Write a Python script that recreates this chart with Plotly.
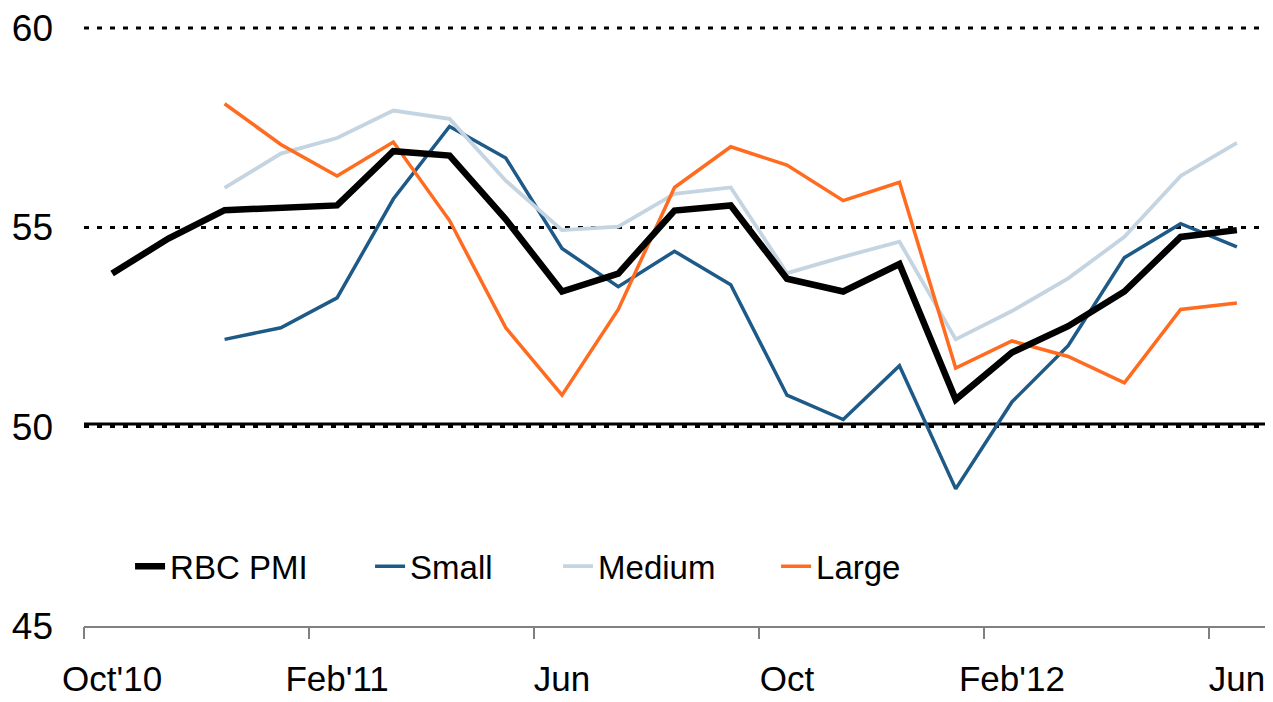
import plotly.graph_objects as go

months = ["Oct'10", "Nov'10", "Dec'10", "Jan'11", "Feb'11", "Mar'11", "Apr'11", "May'11",
          "Jun'11", "Jul'11", "Aug'11", "Sep'11", "Oct'11", "Nov'11", "Dec'11", "Jan'12",
          "Feb'12", "Mar'12", "Apr'12", "May'12", "Jun'12"]
tick_months = ["Oct'10", "Feb'11", "Jun'11", "Oct'11", "Feb'12", "Jun'12"]
tick_labels = ["Oct'10", "Feb'11", "Jun", "Oct", "Feb'12", "Jun"]

rbc_pmi = [53.84, 54.72, 55.43, 55.49, 55.55, 56.91, 56.80, 55.20, 53.39, 53.84, 55.42,
           55.55, 53.71, 53.39, 54.08, 50.68, 51.86, 52.52, 53.39, 54.76, 54.93]
small = [None, None, 52.19, 52.48, 53.23, 55.71, 57.53, 56.74, 54.47, 53.51, 54.40,
         53.56, 50.79, 50.18, 51.53, 48.44, 50.62, 52.03, 54.24, 55.09, 54.51]
medium = [None, None, 55.99, 56.85, 57.24, 57.93, 57.72, 56.17, 54.93, 55.02, 55.84,
          56.00, 53.85, 54.26, 54.64, 52.19, 52.90, 53.72, 54.76, 56.29, 57.12]
large = [None, None, 58.10, 57.08, 56.29, 57.14, 55.17, 52.48, 50.79, 52.94, 56.00,
         57.02, 56.56, 55.67, 56.13, 51.47, 52.15, 51.76, 51.10, 52.94, 53.10]

series = {
    "RBC PMI": (rbc_pmi, "#000000", 6.5, 1, 195),
    "Small": (small, "#1E5A88", 3.5, 2, 143),
    "Medium": (medium, "#C5D4E1", 3.8, 3, 173),
    "Large": (large, "#FF6B1F", 3.5, 4, 100),
}

fig = go.Figure()
for name in ["Small", "Medium", "Large", "RBC PMI"]:
    vals, color, w, rank, lw = series[name]
    fig.add_trace(go.Scatter(x=months, y=vals, name=name, mode="lines",
                             line=dict(color=color, width=w), connectgaps=False,
                             legendrank=rank, legendwidth=lw))

# invisible trace on overlay axis for boundary tick marks
fig.add_trace(go.Scatter(x=[-0.5, len(months) - 0.5], y=[None, None], xaxis="x2",
                         showlegend=False, hoverinfo="skip"))

font = "Liberation Sans, Arial, sans-serif"

fig.update_layout(
    width=1273, height=702,
    margin=dict(l=84, r=8, t=28, b=76),
    plot_bgcolor="white", paper_bgcolor="white",
    showlegend=True,
    legend=dict(orientation="h", x=0.039, xanchor="left", y=0.1, yanchor="middle",
                font=dict(family=font, size=33, color="#000000"),
                bgcolor="rgba(0,0,0,0)", traceorder="normal"),
    xaxis=dict(type="category", categoryorder="array", categoryarray=months,
               range=[-0.5, len(months) - 0.5],
               tickvals=tick_months, ticktext=tick_labels,
               ticks="", showgrid=False, zeroline=False, automargin=False,
               showline=True, linecolor="#808080", linewidth=2,
               tickfont=dict(family=font, size=35, color="#000000"),
               ticklabelstandoff=21),
    xaxis2=dict(overlaying="x", anchor="y", side="bottom", range=[-0.5, len(months) - 0.5],
                tickvals=[-0.5 + 4 * i for i in range(6)], showticklabels=False,
                ticks="outside", ticklen=12, tickwidth=1.5, tickcolor="#808080",
                showgrid=False, zeroline=False, showline=False, automargin=False),
    yaxis=dict(range=[45, 60], tickvals=[45, 50, 55, 60], ticks="",
               showgrid=True, gridcolor="#000000", gridwidth=3, griddash="5px,8px",
               zeroline=False, showline=False, automargin=False,
               tickfont=dict(family=font, size=37, color="#000000"),
               ticklabelstandoff=30),
)

# top gridline (plotly omits grid at the range edge) and solid line at 50
fig.add_shape(type="line", xref="paper", yref="paper", x0=0, x1=1, y0=1, y1=1,
              line=dict(color="#000000", width=3, dash="5px,8px"), layer="below")
fig.add_shape(type="line", xref="paper", yref="y", x0=0, x1=1, y0=50.07, y1=50.07,
              line=dict(color="#000000", width=3), layer="below")

fig.write_html("out.html", config={"displayModeBar": False},
               post_script="document.body.style.margin='0px';")
